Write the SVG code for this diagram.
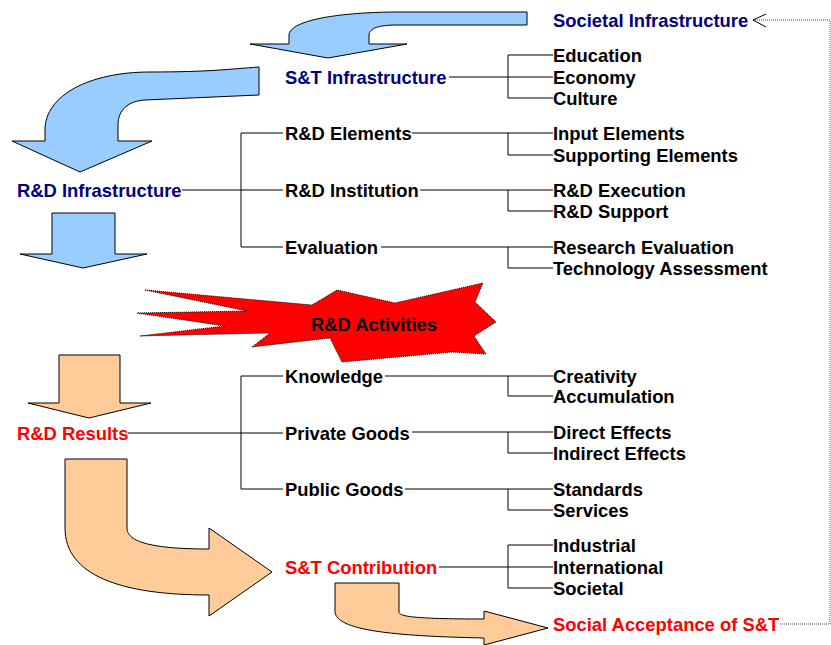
<svg xmlns="http://www.w3.org/2000/svg" width="831" height="645" viewBox="0 0 831 645">
<style>
text{font-family:"Liberation Sans",Arial,sans-serif;font-weight:bold;font-size:18.4px;fill:#000}
.navy{fill:#000080}
.red{fill:#ff0000}
.ln{stroke:#000;stroke-width:1;fill:none}
.blue{fill:#99ccff;stroke:#000;stroke-width:1}
.peach{fill:#ffcc99;stroke:#000;stroke-width:1}
.dot{stroke:#444;stroke-width:1;fill:none;stroke-dasharray:1,1}
</style>
<rect width="831" height="645" fill="#fff"/>
<g id="shapes">
<path class="blue" d="M527,12 L400,12 C340,12 290,20 289,35 L289,44 L250,44 L328,58 L407,44 L369,44 L369,35 C369,28 380,25 397,25 L527,25 Z"/>
<path class="blue" d="M259,67 C230,69 210,72 150,72 C90,72 45,95 45,130 L45,141 L12,141 L80,172 L152,141 L118,141 L118,125 C118,110 128,101 145,100 L259,95 Z"/>
<path class="blue" d="M52,213 L115,213 L115,254 L147,254 L83,268 L20,254 L52,254 Z"/>
<path class="peach" d="M59,355 L120,355 L120,403 L151,403 L89,418 L28,403 L59,403 Z"/>
<path class="peach" d="M65,459 L127,459 L127,528 C127,540 145,549 209,549 L209,528 L272,572 L209,616 L209,595 C120,595 65,575 65,528 Z"/>
<path class="peach" d="M335,583 L399,583 L399,612 C399,616 410,619 484,619 L484,611 L548,628 L484,645 L484,638 C390,636 337,630 335,612 Z"/>
</g>
<g id="activities">
<polygon points="145,290 312,305 337,290 395,303 483,283 475,302 496,322 474,336 486,354 452,352 342,362 330,338 252,347 270,333 140,336 225,326 137,313 247,311" fill="#ff0000" stroke="#000" stroke-width="1" stroke-dasharray="1,1"/>
<text x="311" y="331">R&amp;D Activities</text>
</g>
<g id="connectors">
<path class="ln" d="M449,77 H553 M508,55 V98 M508,55 H553 M508,98 H553"/>
<path class="ln" d="M182,190 H283 M241,133 V247 M241,133 H283 M241,247 H283"/>
<path class="ln" d="M412,133 H553 M508,133 V155 H553"/>
<path class="ln" d="M420,190 H553 M508,190 V211 H553"/>
<path class="ln" d="M381,247 H553 M508,247 V268 H553"/>
<path class="ln" d="M128,433 H283 M241,376 V489 M241,376 H283 M241,489 H283"/>
<path class="ln" d="M385,376 H553 M508,376 V396 H553"/>
<path class="ln" d="M412,432 H553 M508,432 V453 H553"/>
<path class="ln" d="M405,489 H553 M508,489 V510 H553"/>
<path class="ln" d="M439,567 H553 M508,545 V588 M508,545 H553 M508,588 H553"/>
<path class="dot" d="M780,624 H830 V20 H755"/>
<path class="ln" d="M766,14 L753,20 L766,27"/>
</g>
<g id="societal"><text class="navy" x="553" y="27">Societal Infrastructure</text></g>
<g id="st-infra"><text class="navy" x="285" y="84">S&amp;T Infrastructure</text></g>
<g id="education"><text x="553" y="62">Education</text></g>
<g id="economy"><text x="553" y="84">Economy</text></g>
<g id="culture"><text x="553" y="105">Culture</text></g>
<g id="rd-infra"><text class="navy" x="17" y="197">R&amp;D Infrastructure</text></g>
<g id="rd-elements"><text x="285" y="140">R&amp;D Elements</text></g>
<g id="rd-institution"><text x="285" y="197">R&amp;D Institution</text></g>
<g id="evaluation"><text x="285" y="254">Evaluation</text></g>
<g id="input"><text x="553" y="140">Input Elements</text></g>
<g id="supporting"><text x="553" y="162">Supporting Elements</text></g>
<g id="execution"><text x="553" y="197">R&amp;D Execution</text></g>
<g id="support"><text x="553" y="218">R&amp;D Support</text></g>
<g id="research-eval"><text x="553" y="254">Research Evaluation</text></g>
<g id="tech-assess"><text x="553" y="275">Technology Assessment</text></g>
<g id="rd-results"><text class="red" x="17" y="440">R&amp;D Results</text></g>
<g id="knowledge"><text x="285" y="383">Knowledge</text></g>
<g id="private"><text x="285" y="440">Private Goods</text></g>
<g id="public"><text x="285" y="496">Public Goods</text></g>
<g id="creativity"><text x="553" y="383">Creativity</text></g>
<g id="accumulation"><text x="553" y="403">Accumulation</text></g>
<g id="direct"><text x="553" y="439">Direct Effects</text></g>
<g id="indirect"><text x="553" y="460">Indirect Effects</text></g>
<g id="standards"><text x="553" y="496">Standards</text></g>
<g id="services"><text x="553" y="517">Services</text></g>
<g id="st-contrib"><text class="red" x="285" y="574">S&amp;T Contribution</text></g>
<g id="industrial"><text x="553" y="552">Industrial</text></g>
<g id="international"><text x="553" y="574">International</text></g>
<g id="societal2"><text x="553" y="595">Societal</text></g>
<g id="acceptance"><text class="red" x="553" y="631">Social Acceptance of S&amp;T</text></g>
</svg>
